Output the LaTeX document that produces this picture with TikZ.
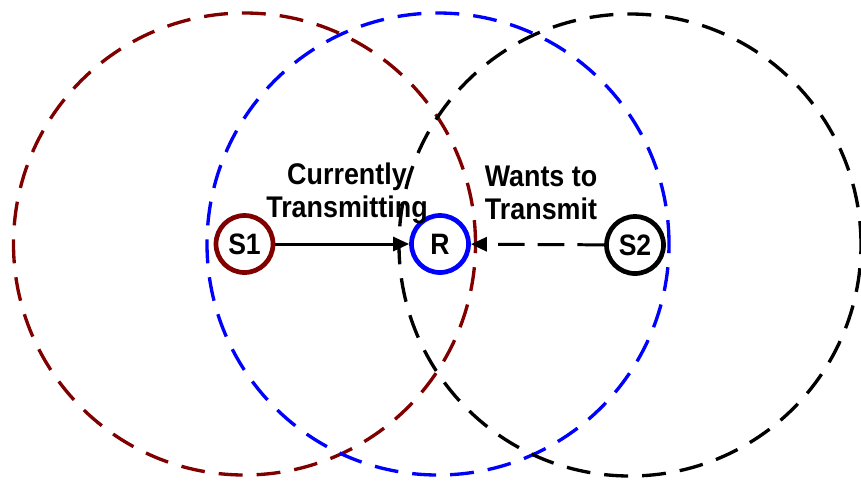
\documentclass[tikz,border=0pt]{standalone}
\usepackage{fontspec}
\setmainfont{Liberation Sans}
\newfontfamily\labelfont{Liberation Sans}[FakeStretch=0.9]
\usepackage{tikz}
\usetikzlibrary{positioning,arrows.meta}
\usepackage{xcolor}
\definecolor{maroon}{HTML}{800000}
\definecolor{pureblue}{HTML}{0000FF}

\begin{document}
\begin{tikzpicture}[
    stationnode/.style={circle, draw, fill=white, line width=1.34pt, minimum size=0.57cm, inner sep=0pt, font=\labelfont\fontsize{8.4}{9}\selectfont\bfseries},
    rangecircle/.style={line width=0.95pt, dash pattern=on 6.8pt off 4pt},
    labeltext/.style={align=center, font=\labelfont\fontsize{8.5}{9.3}\selectfont\bfseries},
    txarrow/.style={draw=black, line width=0.85pt, -{Triangle[length=0.16cm, width=0.14cm]}},
    waitarrow/.style={draw=black, line width=0.85pt, dash pattern=on 7.6pt off 3.7pt, -{Triangle[length=0.16cm, width=0.14cm]}}
]
    % Area dell'immagine
    \useasboundingbox (0,0) rectangle (8.61,4.81);

    % Stazioni
    \node[stationnode, draw=maroon] (s1) at (2.445, 2.37) {S1};
    \node[stationnode, draw=pureblue] (r) at (4.40, 2.37) {R};
    \node[stationnode, draw=black] (s2) at (6.35, 2.36) {S2};

    % Etichette
    \node[labeltext] (txlabel) at (3.47, 2.88) {Currently\\Transmitting};
    \node[labeltext] (wantlabel) at (5.41, 2.88) {Wants to\\Transmit};

    % Raggi di copertura
    \draw[rangecircle, maroon] (s1) circle (2.31);
    \draw[rangecircle, pureblue] ([xshift=-0.2mm]r.center) circle (2.31);
    \draw[rangecircle, black] ([xshift=-0.5mm]s2.center) circle (2.31);

    % Trasmissioni
    \draw[txarrow] (s1) -- (r);
    \draw[waitarrow] (s2) -- (r);
\end{tikzpicture}
\end{document}
